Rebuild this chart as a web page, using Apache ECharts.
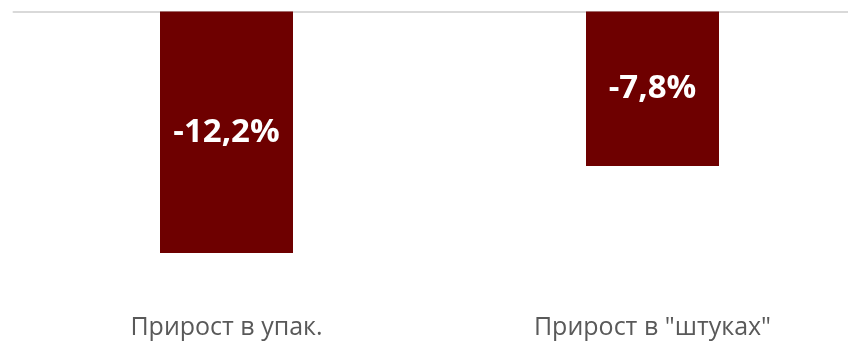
<!DOCTYPE html>
<html><head><meta charset="utf-8">
<script src="https://cdn.jsdelivr.net/npm/echarts@6/dist/echarts.min.js"></script>
<style>html,body{margin:0;padding:0;background:#fff;overflow:hidden}#c{width:870px;height:341px}</style>
</head><body><div id="c"></div>
<script>
const categories = ['Прирост в упак.', 'Прирост в "штуках"'];
const values = [-12.2, -7.8];
const labels = ['-12,2%', '-7,8%'];

const chart = echarts.init(document.getElementById('c'));
chart.setOption({
  animation: false,
  grid: { left: 13.5, top: 11.5, width: 852, height: 297 },
  xAxis: [
    { type: 'category', data: categories, position: 'top',
      axisLine: { show: true, onZero: false, lineStyle: { color: '#d9d9d9', width: 2 } },
      axisTick: { show: false }, axisLabel: { show: false } },
    { type: 'category', data: categories, position: 'bottom',
      axisLine: { show: false, onZero: false }, axisTick: { show: false },
      axisLabel: { color: '#595959', fontSize: 25, fontFamily: 'Open Sans', margin: 7 } }
  ],
  yAxis: { type: 'value', min: -15, max: 0, show: false, splitLine: { show: false } },
  series: [{
    type: 'bar', xAxisIndex: 1, data: values, barWidth: 133,
    itemStyle: { color: '#6e0000' },
    label: { show: true, position: 'inside', color: '#fff', fontSize: 33, fontWeight: 'bold',
      fontFamily: 'Open Sans', formatter: p => labels[p.dataIndex] }
  }]
});
</script></body></html>
